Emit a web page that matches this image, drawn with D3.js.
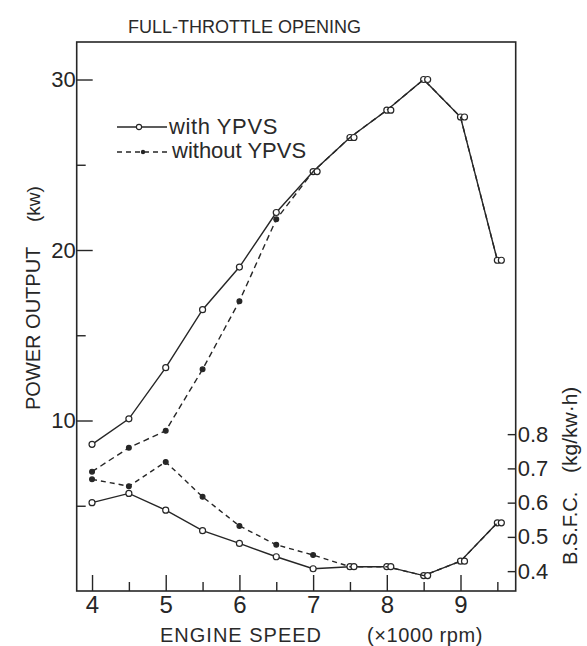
<!DOCTYPE html>
<html>
<head>
<meta charset="utf-8">
<script src="https://cdn.jsdelivr.net/npm/d3@7"></script>
<style>
  body { margin: 0; background: #fff; }
  svg text { font-family: "Liberation Sans", Arial, sans-serif; fill: #2a2a2a; }
</style>
</head>
<body>
<div id="chart"></div>
<script>
/* full-throttle power / bsfc chart */

const rpm = [4, 4.5, 5, 5.5, 6, 6.5, 7, 7.5, 8, 8.5, 9, 9.5]
const powerWith = [8.6, 10.1, 13.1, 16.5, 19.0, 22.2, 24.6, 26.6, 28.2, 30.0, 27.8, 19.4]
const powerWithout = [7.0, 8.4, 9.4, 13.0, 17.0, 21.8, 24.6, 26.6, 28.2, 30.0, 27.8, 19.4]
const bsfcWith = [0.600, 0.627, 0.578, 0.518, 0.481, 0.442, 0.407, 0.413, 0.413, 0.387, 0.429, 0.541]
const bsfcWithout = [0.668, 0.648, 0.719, 0.617, 0.532, 0.477, 0.447, 0.413, 0.413, 0.387, 0.429, 0.541]

const xTicks = [4, 5, 6, 7, 8, 9]
const xMinor = [4.5, 5.5, 6.5, 7.5, 8.5, 9.5]
const powerTicks = [10, 20, 30]
const powerMinor = [5, 15, 25]
const bsfcTicks = [0.4, 0.5, 0.6, 0.7, 0.8]

const W = 587, H = 646
const ink = "#262626"

const svg = d3.select("#chart").append("svg")
  .attr("width", W)
  .attr("height", H)

const x = d3.scaleLinear().domain([3.792, 9.749]).range([76.7, 515.7])
const yP = d3.scaleLinear().domain([0, 32.2]).range([591, 42])
const yB = d3.scaleLinear().domain([0.342, 1.945]).range([591, 42])

// frame
svg.append("rect")
  .attr("x", x.range()[0]).attr("y", yP.range()[1])
  .attr("width", x.range()[1] - x.range()[0])
  .attr("height", yP.range()[0] - yP.range()[1])
  .attr("fill", "none").attr("stroke", ink).attr("stroke-width", 1.6)

function styleAxis (g) {
  g.select(".domain").remove()
  g.selectAll(".tick line").attr("stroke", ink).attr("stroke-width", 1.4)
}

// left axis, ticks point inward
svg.append("g")
  .attr("transform", `translate(${x.range()[0]},0)`)
  .call(d3.axisLeft(yP).tickValues(powerTicks).tickSizeInner(-16).tickSizeOuter(0).tickPadding(1))
  .call(styleAxis)
  .selectAll("text").style("font-size", "22px").style("fill", ink)

svg.append("g")
  .attr("transform", `translate(${x.range()[0]},0)`)
  .call(d3.axisLeft(yP).tickValues(powerMinor).tickSizeInner(-9).tickSizeOuter(0).tickFormat(""))
  .call(styleAxis)

// bottom axis
svg.append("g")
  .attr("transform", `translate(0,${yP.range()[0]})`)
  .call(d3.axisBottom(x).tickValues(xTicks).tickSizeInner(-16).tickSizeOuter(0)
    .tickPadding(5).tickFormat(d3.format("d")))
  .call(styleAxis)
  .selectAll("text").style("font-size", "24px").style("fill", ink)

svg.append("g")
  .attr("transform", `translate(0,${yP.range()[0]})`)
  .call(d3.axisBottom(x).tickValues(xMinor).tickSizeInner(-9).tickSizeOuter(0).tickFormat(""))
  .call(styleAxis)

// right axis (bsfc)
svg.append("g")
  .attr("transform", `translate(${x.range()[1]},0)`)
  .call(d3.axisRight(yB).tickValues(bsfcTicks).tickSizeInner(-8).tickSizeOuter(0)
    .tickPadding(2).tickFormat(d3.format(".1f")))
  .call(styleAxis)
  .selectAll("text").style("font-size", "22px").style("fill", ink)

// series
const series = [
  { vals: powerWith, y: yP, dash: null, open: true },
  { vals: powerWithout, y: yP, dash: "6,4", open: false, ref: powerWith },
  { vals: bsfcWith, y: yB, dash: null, open: true },
  { vals: bsfcWithout, y: yB, dash: "5,4", open: false, ref: bsfcWith }
]

series.forEach(s => {
  const pts = rpm.map((r, i) => [r, s.vals[i]])
  const line = d3.line().x(d => x(d[0])).y(d => s.y(d[1]))

  svg.append("path")
    .datum(pts)
    .attr("d", line)
    .attr("fill", "none")
    .attr("stroke", ink)
    .attr("stroke-width", 1.4)
    .attr("stroke-dasharray", s.dash)

  const g = svg.append("g")
  if (s.open) {
    g.selectAll("circle").data(pts).join("circle")
      .attr("cx", d => x(d[0])).attr("cy", d => s.y(d[1]))
      .attr("r", 3).attr("fill", "#fff").attr("stroke", ink).attr("stroke-width", 1.2)
  } else {
    // where both curves meet the points were plotted twice, side by side
    g.selectAll("circle").data(pts).join("circle")
      .attr("cx", (d, i) => x(d[0]) + (s.ref[i] === d[1] ? 4 : 0))
      .attr("cy", d => s.y(d[1]))
      .attr("r", (d, i) => s.ref[i] === d[1] ? 3 : 2.4)
      .attr("fill", (d, i) => s.ref[i] === d[1] ? "#fff" : ink)
      .attr("stroke", ink).attr("stroke-width", 1.2)
  }
})

// legend
const legend = svg.append("g")
legend.append("line")
  .attr("x1", 117).attr("x2", 167).attr("y1", 127).attr("y2", 127)
  .attr("stroke", ink).attr("stroke-width", 1.4)
legend.append("circle")
  .attr("cx", 139).attr("cy", 127).attr("r", 2.6)
  .attr("fill", "#fff").attr("stroke", ink).attr("stroke-width", 1.1)
legend.append("text")
  .attr("x", 169).attr("y", 134)
  .style("font-size", "22px").style("letter-spacing", "0.6px").text("with YPVS")

legend.append("line")
  .attr("x1", 117).attr("x2", 170).attr("y1", 152).attr("y2", 152)
  .attr("stroke", ink).attr("stroke-width", 1.4).attr("stroke-dasharray", "5,4")
legend.append("circle")
  .attr("cx", 143).attr("cy", 152).attr("r", 2.2).attr("fill", ink)
legend.append("text")
  .attr("x", 172).attr("y", 158)
  .style("font-size", "22px").text("without YPVS")

// titles
svg.append("text")
  .attr("x", 128).attr("y", 33)
  .style("font-size", "18px").text("FULL-THROTTLE OPENING")

svg.append("text")
  .attr("transform", "translate(40,410) rotate(-90)")
  .style("font-size", "20px").style("fill", ink).text("POWER OUTPUT")
svg.append("text")
  .attr("transform", "translate(40,222) rotate(-90)")
  .style("font-size", "19px").style("fill", ink).text("(kw)")

svg.append("text")
  .attr("transform", "translate(577,565) rotate(-90)")
  .style("font-size", "20px").style("fill", ink).text("B.S.F.C.")
svg.append("text")
  .attr("transform", "translate(577,473) rotate(-90)")
  .style("font-size", "21px").style("fill", ink).text("(kg/kw·h)")

svg.append("text")
  .attr("x", 160).attr("y", 642)
  .style("font-size", "20px").style("letter-spacing", "1px").text("ENGINE SPEED")
svg.append("text")
  .attr("x", 367).attr("y", 642)
  .style("font-size", "20px").style("letter-spacing", "0.6px").text("(×1000 rpm)")
</script>
</body>
</html>
